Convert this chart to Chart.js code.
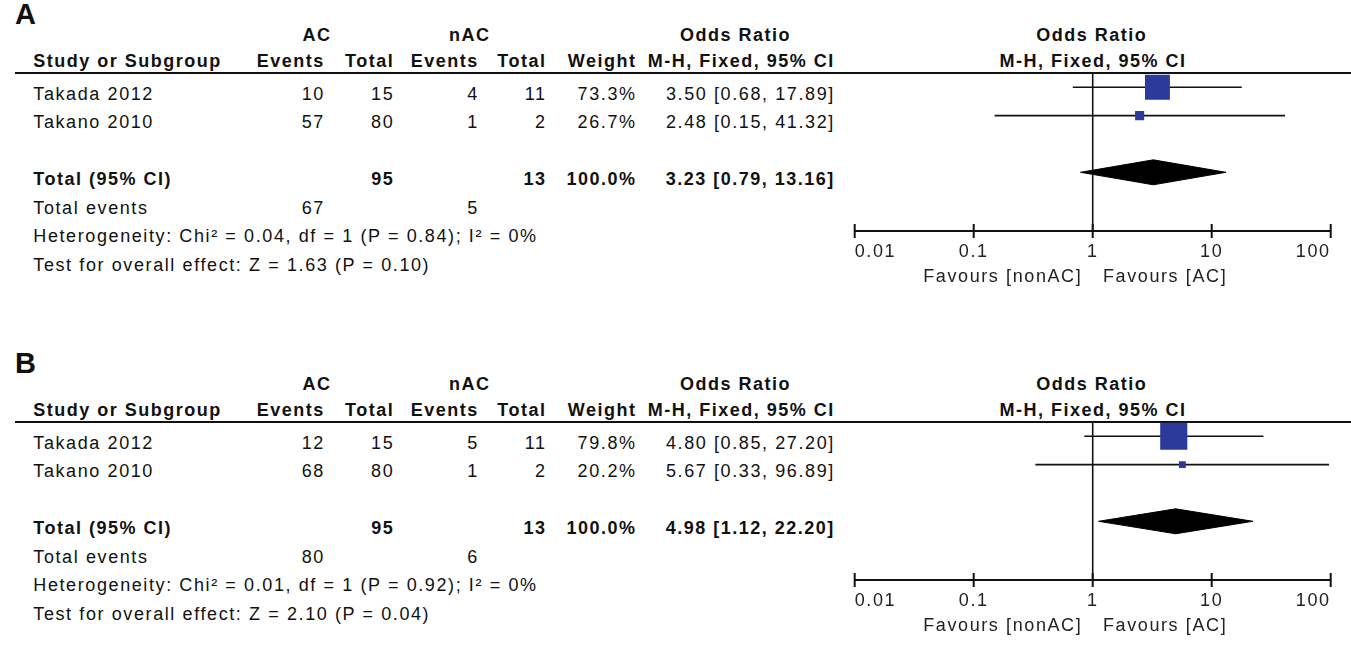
<!DOCTYPE html>
<html>
<head>
<meta charset="utf-8">
<script src="https://cdn.jsdelivr.net/npm/chart.js@4.4.1/dist/chart.umd.min.js"></script>
<style>
  html, body { margin: 0; padding: 0; background: #fff; overflow: hidden; }
  #page { position: relative; width: 1351px; height: 647px; font-family: "Liberation Sans", Arial, sans-serif; color: #111; }
  .t { position: absolute; white-space: nowrap; font-size: 18px; letter-spacing: 1.6px; }
  .b { font-weight: bold; letter-spacing: 1.5px; }
  .rule { position: absolute; left: 15px; right: 0; height: 2px; background: #111; }
  canvas { position: absolute; }
</style>
</head>
<body>
<div id="page"></div>
<script>
const studies = ['Takada 2012', 'Takano 2010'];
const tickValues = [0.01, 0.1, 1, 10, 100];
const favourLabels = ['Favours [nonAC]', 'Favours [AC]'];

// panel A
const acEventsA = [10, 57];
const acTotalA = [15, 80];
const nacEventsA = [4, 1];
const nacTotalA = [11, 2];
const weightA = [73.3, 26.7];
const oddsA = [3.50, 2.48];
const lowerA = [0.68, 0.15];
const upperA = [17.89, 41.32];
const pooledA = [3.23, 0.79, 13.16];
const statsA = ['Heterogeneity: Chi² = 0.04, df = 1 (P = 0.84); I² = 0%',
                'Test for overall effect: Z = 1.63 (P = 0.10)'];

// panel B
const acEventsB = [12, 68];
const acTotalB = [15, 80];
const nacEventsB = [5, 1];
const nacTotalB = [11, 2];
const weightB = [79.8, 20.2];
const oddsB = [4.80, 5.67];
const lowerB = [0.85, 0.33];
const upperB = [27.20, 96.89];
const pooledB = [4.98, 1.12, 22.20];
const statsB = ['Heterogeneity: Chi² = 0.01, df = 1 (P = 0.92); I² = 0%',
                'Test for overall effect: Z = 2.10 (P = 0.04)'];

const FONT = '"Liberation Sans", Arial, sans-serif';
const page = document.getElementById('page');
const sum = a => a.reduce((s, v) => s + v, 0);
const ci = (o, l, u) => o.toFixed(2) + ' [' + l.toFixed(2) + ', ' + u.toFixed(2) + ']';

// cy = centre of the capital letters
function put(str, x, cy, align, bold, size) {
    size = size || 18;
    const lh = Math.round(size * 1.25);
    const ls = bold ? 1.5 : 1.6;
    const el = document.createElement('div');
    el.className = 't' + (bold ? ' b' : '');
    el.textContent = str;
    el.style.fontSize = size + 'px';
    el.style.lineHeight = lh + 'px';
    el.style.top = (cy - lh / 2 + 0.0115 * size) + 'px';
    if (align === 'right') {
        el.style.right = (1351 - x - ls) + 'px';
    } else if (align === 'center') {
        el.style.left = (x - 300 + ls / 2) + 'px';
        el.style.width = '600px';
        el.style.textAlign = 'center';
    } else {
        el.style.left = x + 'px';
    }
    page.appendChild(el);
}

function table(dy, letter, acEv, acTot, nacEv, nacTot, weight, odds, lower, upper, pooled, stats) {
    put(letter, 15, dy + 13.8, 'left', true, 29);

    put('AC', 330, dy + 35, 'right', true);
    put('nAC', 489, dy + 35, 'right', true);
    put('Odds Ratio', 734.7, dy + 35, 'center', true);
    put('Odds Ratio', 1091, dy + 35, 'center', true);

    put('Study or Subgroup', 33.3, dy + 61.7, 'left', true);
    put('Events', 323.3, dy + 61.7, 'right', true);
    put('Total', 392.7, dy + 61.7, 'right', true);
    put('Events', 477.3, dy + 61.7, 'right', true);
    put('Total', 545, dy + 61.7, 'right', true);
    put('Weight', 635, dy + 61.7, 'right', true);
    put('M-H, Fixed, 95% CI', 833.3, dy + 61.7, 'right', true);
    put('M-H, Fixed, 95% CI', 1092.3, dy + 61.7, 'center', true);

    const rule = document.createElement('div');
    rule.className = 'rule';
    rule.style.top = (dy + 71.5) + 'px';
    page.appendChild(rule);

    studies.forEach((s, i) => {
        const y = dy + 94 + i * 28.5;
        put(s, 33.3, y, 'left');
        put(String(acEv[i]), 323.3, y, 'right');
        put(String(acTot[i]), 392.7, y, 'right');
        put(String(nacEv[i]), 477.3, y, 'right');
        put(String(nacTot[i]), 545, y, 'right');
        put(weight[i].toFixed(1) + '%', 635, y, 'right');
        put(ci(odds[i], lower[i], upper[i]), 833.3, y, 'right');
    });

    const yt = dy + 179.5;
    put('Total (95% CI)', 33.3, yt, 'left', true);
    put(String(sum(acTot)), 392.7, yt, 'right', true);
    put(String(sum(nacTot)), 545, yt, 'right', true);
    put(sum(weight).toFixed(1) + '%', 635, yt, 'right', true);
    put(ci(pooled[0], pooled[1], pooled[2]), 833.3, yt, 'right', true);

    put('Total events', 33.3, dy + 208, 'left');
    put(String(sum(acEv)), 323.3, dy + 208, 'right');
    put(String(sum(nacEv)), 477.3, dy + 208, 'right');
    put(stats[0], 33.3, dy + 236.5, 'left');
    put(stats[1], 33.3, dy + 265, 'left');
}

const forestMarks = {
    id: 'forestMarks',
    beforeDraw(c) {
        c.ctx.letterSpacing = '1.6px';
    },
    beforeDatasetsDraw(c) {
        const ctx = c.ctx, a = c.chartArea;
        const x = c.scales.x.getPixelForValue(1);
        ctx.save();
        ctx.strokeStyle = '#111';
        ctx.lineWidth = 1.6;
        ctx.beginPath();
        ctx.moveTo(x, a.top);
        ctx.lineTo(x, a.bottom);
        ctx.stroke();
        ctx.restore();
    },
    afterDraw(c) {
        const ctx = c.ctx, a = c.chartArea, sx = c.scales.x;
        ctx.save();
        ctx.strokeStyle = '#111';
        ctx.lineWidth = 2;
        tickValues.forEach(v => {
            const x = sx.getPixelForValue(v);
            ctx.beginPath();
            ctx.moveTo(x, a.bottom - 7);
            ctx.lineTo(x, a.bottom + 7);
            ctx.stroke();
        });
        const x1 = sx.getPixelForValue(1);
        ctx.letterSpacing = '1.6px';
        ctx.fillStyle = '#222';
        ctx.font = '18px ' + FONT;
        ctx.textBaseline = 'middle';
        ctx.textAlign = 'right';
        ctx.fillText(favourLabels[0], x1 - 10.4, a.bottom + 46.5);
        ctx.textAlign = 'left';
        ctx.fillText(favourLabels[1], x1 + 10.3, a.bottom + 46.5);
        ctx.restore();
    }
};

function forest(dy, weight, odds, lower, upper, pooled) {
    const cv = document.createElement('canvas');
    cv.width = 551;
    cv.height = 320;
    cv.style.left = '800px';
    cv.style.top = dy + 'px';
    page.appendChild(cv);

    const totalRow = odds.length + 1;
    const h = 0.44;
    const datasets = [{
        data: odds.map((v, i) => ({x: v, y: i})),
        pointStyle: 'rect',
        pointRadius: weight.map(w => w * 0.34 / Math.SQRT2),
        pointBackgroundColor: '#2b3a9b',
        pointBorderWidth: 0,
        order: 0
    }];
    odds.forEach((_, i) => datasets.push({
        data: [{x: lower[i], y: i}, {x: upper[i], y: i}],
        showLine: true,
        borderColor: '#111',
        borderWidth: 1.6,
        pointRadius: 0,
        order: 1
    }));
    datasets.push({
        data: [
            {x: pooled[1], y: totalRow},
            {x: pooled[0], y: totalRow - h},
            {x: pooled[2], y: totalRow},
            {x: pooled[0], y: totalRow + h},
            {x: pooled[1], y: totalRow}
        ],
        showLine: true,
        fill: 'shape',
        backgroundColor: '#000',
        borderColor: '#000',
        borderWidth: 1,
        pointRadius: 0,
        order: 1
    });

    new Chart(cv.getContext('2d'), {
        type: 'scatter',
        data: {datasets: datasets},
        options: {
            responsive: false,
            animation: false,
            events: [],
            layout: {padding: {left: 54.7, right: 20.3, top: 72.5, bottom: 29}},
            plugins: {legend: {display: false}, tooltip: {enabled: false}},
            scales: {
                x: {
                    type: 'logarithmic',
                    min: 0.01,
                    max: 100,
                    afterBuildTicks: s => { s.ticks = tickValues.map(v => ({value: v})); },
                    afterFit: s => { s.height = 60; s.paddingLeft = 0; s.paddingRight = 0; },
                    grid: {display: false, drawTicks: false},
                    border: {display: true, color: '#111', width: 2},
                    ticks: {
                        autoSkip: false,
                        maxRotation: 0,
                        align: 'inner',
                        padding: 10,
                        color: '#222',
                        font: {family: FONT, size: 18},
                        callback: v => String(v)
                    }
                },
                y: {type: 'linear', display: false, reverse: true, min: -0.52, max: 5.07}
            }
        },
        plugins: [forestMarks]
    });
}

table(0, 'A', acEventsA, acTotalA, nacEventsA, nacTotalA, weightA, oddsA, lowerA, upperA, pooledA, statsA);
forest(0, weightA, oddsA, lowerA, upperA, pooledA);
table(349, 'B', acEventsB, acTotalB, nacEventsB, nacTotalB, weightB, oddsB, lowerB, upperB, pooledB, statsB);
forest(349, weightB, oddsB, lowerB, upperB, pooledB);
</script>
</body>
</html>
